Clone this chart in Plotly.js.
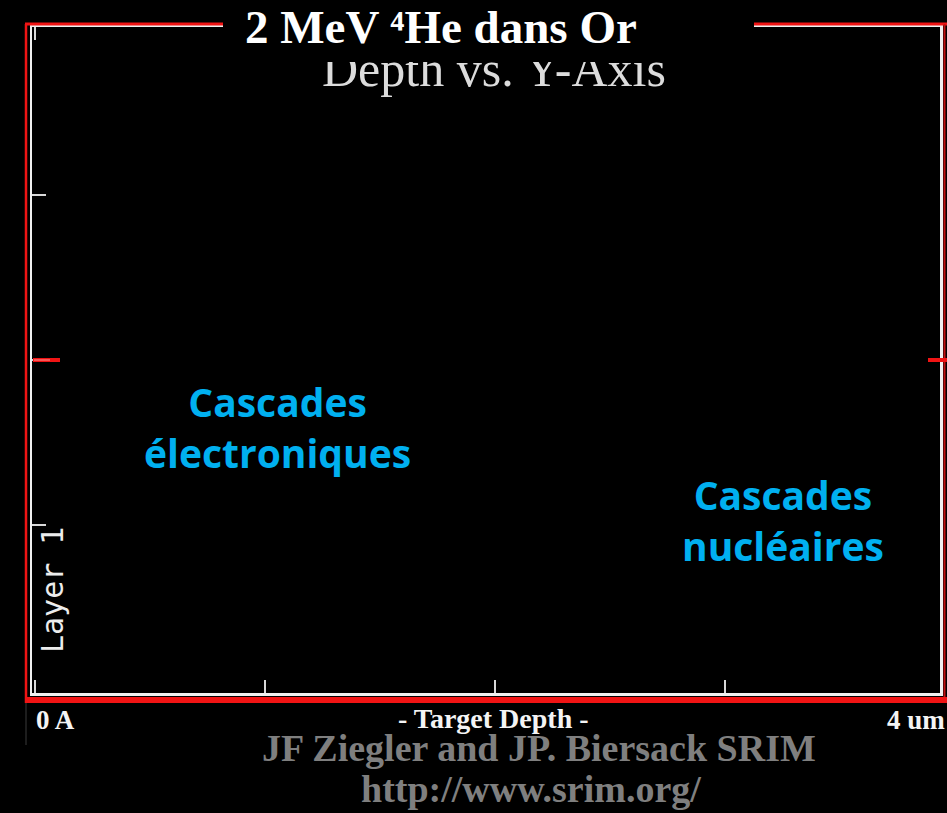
<!DOCTYPE html>
<html>
<head>
<meta charset="utf-8">
<script src="https://cdn.plot.ly/plotly-3.0.1.min.js"></script>
<style>html,body{margin:0;padding:0;background:#000;}#chart{width:947px;height:813px;}</style>
</head>
<body>
<div id="chart"></div>
<script>
// ---- data ----
const xTickVals = [0, 1, 2, 3];          // target depth ticks (um)
const yTickVals = [1, 2, 3];             // y-axis ticks
const beamY = 2;                          // ion beam entry position marker
const xRange = [-0.01304, 3.9348];
const yRange = [-0.01818, 4.01818];
const titleText = "2 MeV \u2074He dans Or";
const subTitleText = "Depth vs. Y-Axis";
const xStartLabel = "0 A";
const xEndLabel = "4 um";
const xAxisLabel = "- Target Depth -";
const layerLabel = "Layer 1";
const leftNote = "Cascades<br>électroniques";
const rightNote = "Cascades<br>nucléaires";
const credit1 = "JF Ziegler and JP. Biersack SRIM";
const credit2 = "http://www.srim.org/";

// ---- layout helpers (pixel -> paper) ----
const L = 32, R = 940, T = 27, B = 693;
const X = px => (px - L) / (R - L);
const Y = py => (B - py) / (B - T);

const red = "#f01414";
const serif = "Liberation Serif, Times New Roman, serif";
const sans = "Open Sans, sans-serif";

const shapes = [
  // red outer frame
  {type:"line", xref:"paper", yref:"paper", x0:X(26), x1:X(26), y0:Y(24), y1:Y(703), line:{color:red, width:2.5}},
  {type:"line", xref:"paper", yref:"paper", x0:X(25), x1:X(947), y0:Y(24), y1:Y(24), line:{color:red, width:3}},
  {type:"line", xref:"paper", yref:"paper", x0:X(944.5), x1:X(944.5), y0:Y(24), y1:Y(703), line:{color:"#c01010", width:2}},
  {type:"line", xref:"paper", yref:"paper", x0:X(25), x1:X(947), y0:Y(700), y1:Y(700), line:{color:red, width:6}},
  {type:"line", xref:"paper", yref:"paper", x0:X(26), x1:X(26), y0:Y(703), y1:Y(745), line:{color:"#3a3a3a", width:1}},
  // beam position markers
  {type:"line", xref:"paper", yref:"y", x0:X(33), x1:X(60), y0:beamY, y1:beamY, line:{color:red, width:4}},
  {type:"line", xref:"paper", yref:"y", x0:X(928), x1:X(947), y0:beamY, y1:beamY, line:{color:red, width:4}},
  {type:"line", xref:"paper", yref:"y", x0:X(34), x1:X(50), y0:beamY, y1:beamY, line:{color:"#ff9a9a", width:1}}
];

const annotations = [
  {text:subTitleText, xref:"paper", yref:"paper", x:X(494), y:Y(69), xanchor:"center", yanchor:"middle",
   showarrow:false, font:{family:serif, size:50, color:"#dcdcdc"}},
  // black box that covers frame and top of subtitle
  {text:" ", xref:"paper", yref:"paper", x:X(223), y:Y(0), xanchor:"left", yanchor:"top",
   width:531, height:62, bgcolor:"#000", borderpad:0, borderwidth:0, showarrow:false, font:{size:10, color:"#000"}},
  {text:titleText, xref:"paper", yref:"paper", x:X(243), y:Y(27), xanchor:"left", yanchor:"middle",
   showarrow:false, font:{family:serif, size:47, color:"#ffffff", weight:"bold"}},
  {text:leftNote, xref:"paper", yref:"paper", x:X(277), y:Y(427), xanchor:"center", yanchor:"middle", align:"center",
   showarrow:false, font:{family:sans, size:39, color:"#00b0f0", weight:"bold"}},
  {text:rightNote, xref:"paper", yref:"paper", x:X(783), y:Y(520), xanchor:"center", yanchor:"middle", align:"center",
   showarrow:false, font:{family:sans, size:39, color:"#00b0f0", weight:"bold"}},
  {text:layerLabel, xref:"paper", yref:"paper", x:X(52), y:Y(590), xanchor:"center", yanchor:"middle", textangle:-90,
   showarrow:false, font:{family:"DejaVu Sans Mono, monospace", size:30, color:"#ececec"}},
  {text:xStartLabel, xref:"paper", yref:"paper", x:X(34), y:Y(720), xanchor:"left", yanchor:"middle",
   showarrow:false, font:{family:serif, size:27, color:"#f4f4f4", weight:"bold"}},
  {text:xEndLabel, xref:"paper", yref:"paper", x:X(947), y:Y(720), xanchor:"right", yanchor:"middle",
   showarrow:false, font:{family:serif, size:27, color:"#f4f4f4", weight:"bold"}},
  {text:xAxisLabel, xref:"paper", yref:"paper", x:X(494), y:Y(718), xanchor:"center", yanchor:"middle",
   showarrow:false, font:{family:serif, size:28, color:"#f4f4f4", weight:"bold"}},
  {text:credit1, xref:"paper", yref:"paper", x:X(539), y:Y(748), xanchor:"center", yanchor:"middle",
   showarrow:false, font:{family:serif, size:38, color:"#7f7f7f", weight:"bold"}},
  {text:credit2, xref:"paper", yref:"paper", x:X(531), y:Y(789), xanchor:"center", yanchor:"middle",
   showarrow:false, font:{family:serif, size:38, color:"#7f7f7f", weight:"bold"}}
];

const layout = {
  width:947, height:813,
  margin:{l:L, r:947-R, t:T, b:813-B, pad:0},
  paper_bgcolor:"#000", plot_bgcolor:"#000",
  showlegend:false,
  xaxis:{range:xRange, tickvals:xTickVals, showticklabels:false, ticks:"inside", ticklen:13, tickwidth:1.5,
         tickcolor:"#d8d8d8", showline:true, linecolor:"#f0f0f0", linewidth:2.5, mirror:"ticks",
         showgrid:false, zeroline:false, fixedrange:true},
  yaxis:{range:yRange, tickvals:yTickVals, showticklabels:false, ticks:"inside", ticklen:14, tickwidth:1.5,
         tickcolor:"#d8d8d8", showline:true, linecolor:"#f0f0f0", linewidth:2.5, mirror:true,
         showgrid:false, zeroline:false, fixedrange:true},
  shapes:shapes,
  annotations:annotations
};

Plotly.newPlot("chart", [{type:"scatter", x:[], y:[], mode:"lines"}], layout, {staticPlot:true, displayModeBar:false});
</script>
</body>
</html>
